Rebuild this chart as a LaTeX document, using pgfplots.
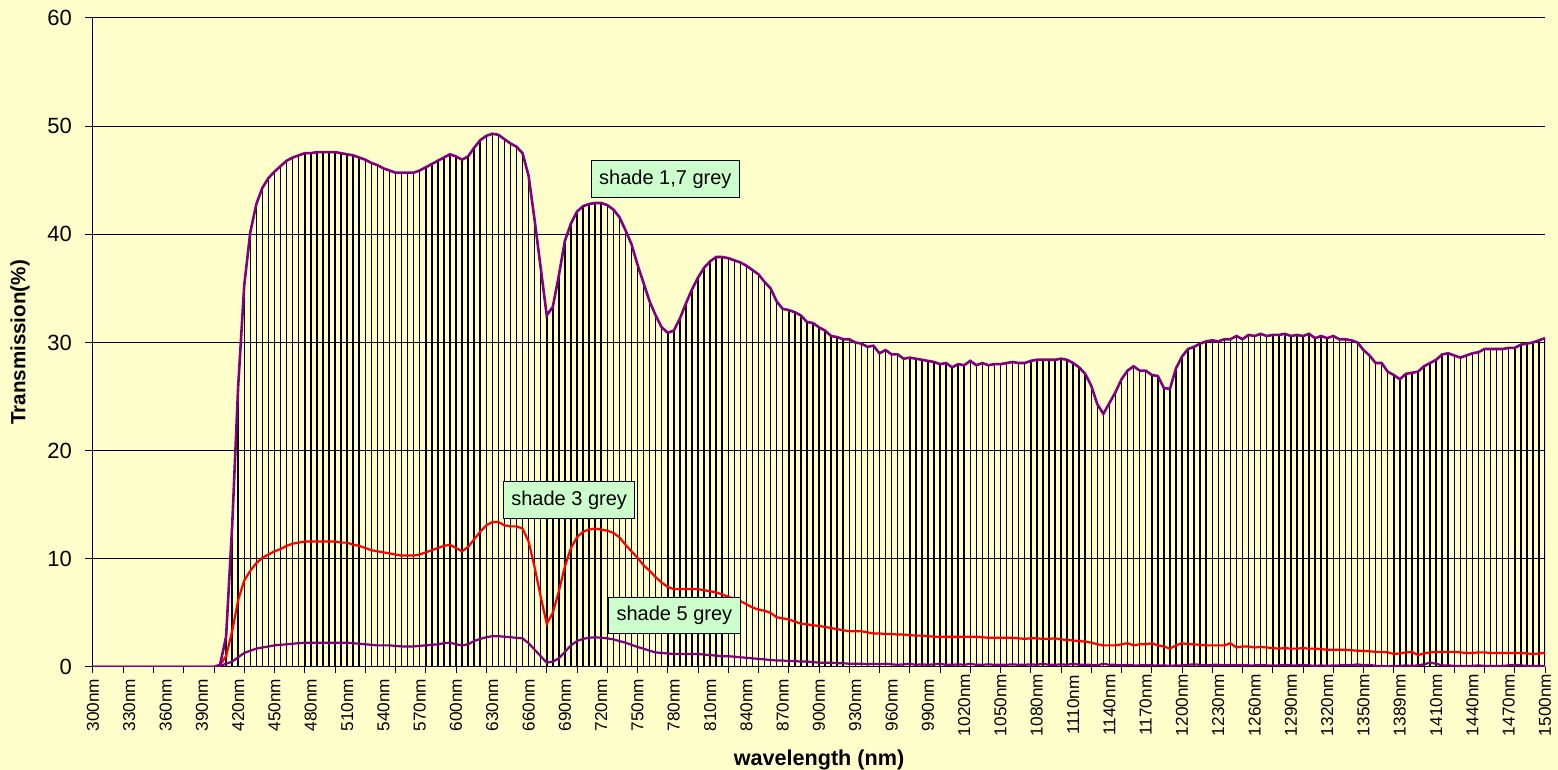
\documentclass[border=0pt]{standalone}
\usepackage{fontspec}
\setmainfont{Liberation Sans}
\usepackage{pgfplots}
\pgfplotsset{compat=1.18}
\usepackage{pgfplotstable}
\definecolor{bg}{RGB}{255,255,204}
\definecolor{lbl}{RGB}{204,255,204}
\definecolor{pur}{RGB}{128,0,128}
\pgfplotstableread{
i top red bot
0 0 0 0
1 0 0 0
2 0 0 0
3 0 0 0
4 0 0 0
5 0 0 0
6 0 0 0
7 0 0 0
8 0 0 0
9 0 0 0
10 0 0 0
11 0 0 0
12 0 0 0
13 0 0 0
14 0 0 0
15 0 0 0
16 0 0 0
17 0 0 0
18 0 0 0
19 0 0 0
20 0 0 0
21 0.2 0.2 0.1
22 2.8 1.0 0.3
23 13.0 3.3 0.5
24 26.0 6.2 0.9
25 35.3 8.0 1.3
26 40.2 8.9 1.5
27 42.8 9.6 1.7
28 44.3 10.1 1.8
29 45.2 10.4 1.9
30 45.8 10.7 2.0
31 46.3 10.9 2.05
32 46.8 11.2 2.1
33 47.1 11.4 2.15
34 47.3 11.5 2.2
35 47.5 11.6 2.25
36 47.5 11.6 2.25
37 47.6 11.6 2.25
38 47.6 11.6 2.25
39 47.6 11.6 2.25
40 47.6 11.6 2.25
41 47.5 11.5 2.25
42 47.4 11.5 2.25
43 47.3 11.3 2.2
44 47.1 11.2 2.15
45 46.9 11.0 2.1
46 46.6 10.8 2.05
47 46.4 10.7 2.0
48 46.1 10.6 2.0
49 45.9 10.5 2.0
50 45.7 10.4 1.95
51 45.7 10.3 1.9
52 45.7 10.3 1.9
53 45.7 10.3 1.9
54 45.9 10.4 1.95
55 46.2 10.6 2.0
56 46.5 10.8 2.05
57 46.8 11.0 2.1
58 47.1 11.2 2.2
59 47.4 11.3 2.25
60 47.2 11.0 2.1
61 46.9 10.7 2.0
62 47.2 11.1 2.1
63 48.0 11.8 2.4
64 48.7 12.5 2.6
65 49.1 13.1 2.75
66 49.3 13.4 2.85
67 49.2 13.4 2.85
68 48.8 13.1 2.8
69 48.4 13.0 2.75
70 48.1 13.0 2.7
71 47.5 12.8 2.65
72 45.4 11.6 2.2
73 41.3 9.2 1.6
74 36.9 6.5 1.0
75 32.5 4.0 0.4
76 33.3 5.0 0.5
77 36.2 7.0 0.8
78 39.4 9.3 1.4
79 41.0 11.0 2.0
80 42.1 12.0 2.4
81 42.6 12.5 2.6
82 42.8 12.7 2.7
83 42.9 12.8 2.75
84 42.9 12.7 2.7
85 42.7 12.6 2.65
86 42.3 12.4 2.55
87 41.6 12.0 2.4
88 40.4 11.3 2.25
89 39.1 10.7 2.05
90 37.2 10.1 1.85
91 35.5 9.4 1.7
92 33.8 8.9 1.5
93 32.5 8.3 1.35
94 31.4 7.8 1.3
95 30.9 7.4 1.25
96 31.1 7.2 1.2
97 32.2 7.2 1.2
98 33.6 7.2 1.2
99 34.9 7.2 1.2
100 36.0 7.2 1.2
101 36.9 7.1 1.15
102 37.5 7.0 1.1
103 37.9 6.9 1.05
104 37.9 6.7 1.0
105 37.8 6.5 1.0
106 37.6 6.3 0.95
107 37.4 6.1 0.9
108 37.1 5.8 0.85
109 36.7 5.5 0.8
110 36.3 5.3 0.75
111 35.6 5.2 0.7
112 35.0 5.0 0.65
113 33.8 4.6 0.6
114 33.1 4.5 0.6
115 33.0 4.4 0.55
116 32.8 4.2 0.55
117 32.5 4.0 0.5
118 31.9 3.95 0.5
119 31.8 3.85 0.45
120 31.4 3.8 0.4
121 31.1 3.7 0.4
122 30.6 3.6 0.4
123 30.5 3.5 0.35
124 30.3 3.4 0.35
125 30.3 3.3 0.3
126 30.0 3.3 0.3
127 29.9 3.3 0.3
128 29.6 3.2 0.25
129 29.7 3.1 0.3
130 29.0 3.1 0.25
131 29.3 3.05 0.3
132 28.9 3.05 0.25
133 28.9 3.0 0.2
134 28.5 3.0 0.25
135 28.6 2.95 0.3
136 28.5 2.9 0.2
137 28.4 2.9 0.25
138 28.3 2.85 0.2
139 28.2 2.8 0.25
140 28.0 2.8 0.3
141 28.1 2.8 0.2
142 27.7 2.8 0.2
143 28.0 2.8 0.25
144 27.9 2.8 0.2
145 28.3 2.8 0.3
146 27.9 2.8 0.2
147 28.1 2.75 0.2
148 27.9 2.7 0.25
149 28.0 2.7 0.2
150 28.0 2.7 0.2
151 28.1 2.7 0.2
152 28.2 2.7 0.25
153 28.1 2.65 0.2
154 28.1 2.6 0.2
155 28.3 2.65 0.25
156 28.4 2.65 0.2
157 28.4 2.6 0.3
158 28.4 2.6 0.2
159 28.4 2.65 0.2
160 28.5 2.55 0.25
161 28.4 2.5 0.2
162 28.1 2.45 0.3
163 27.7 2.4 0.2
164 27.1 2.35 0.2
165 26.0 2.25 0.2
166 24.3 2.1 0.15
167 23.4 2.0 0.3
168 24.4 2.0 0.2
169 25.4 2.0 0.2
170 26.6 2.1 0.15
171 27.4 2.2 0.2
172 27.8 2.0 0.15
173 27.4 2.1 0.15
174 27.4 2.1 0.2
175 27.0 2.2 0.15
176 26.9 2.0 0.15
177 25.8 1.9 0.15
178 25.7 1.7 0.1
179 27.6 2.0 0.15
180 28.7 2.2 0.15
181 29.4 2.1 0.2
182 29.6 2.1 0.25
183 29.9 2.05 0.2
184 30.1 2.0 0.15
185 30.2 2.0 0.2
186 30.1 2.0 0.2
187 30.3 2.0 0.15
188 30.3 2.2 0.2
189 30.6 1.8 0.15
190 30.3 1.9 0.2
191 30.7 1.9 0.15
192 30.6 1.8 0.15
193 30.8 1.85 0.2
194 30.6 1.8 0.15
195 30.7 1.75 0.15
196 30.7 1.7 0.15
197 30.8 1.75 0.2
198 30.6 1.7 0.15
199 30.7 1.7 0.15
200 30.6 1.75 0.2
201 30.8 1.7 0.15
202 30.4 1.7 0.1
203 30.6 1.65 0.15
204 30.4 1.6 0.1
205 30.6 1.6 0.15
206 30.3 1.6 0.15
207 30.3 1.6 0.2
208 30.2 1.55 0.15
209 30.0 1.5 0.25
210 29.3 1.5 0.15
211 28.8 1.45 0.2
212 28.1 1.4 0.1
213 28.1 1.4 0.1
214 27.3 1.35 0.05
215 27.0 1.2 0.1
216 26.6 1.25 0.1
217 27.1 1.35 0.15
218 27.2 1.4 0.1
219 27.3 1.1 0.15
220 27.8 1.25 0.25
221 28.1 1.35 0.4
222 28.4 1.4 0.3
223 28.9 1.4 0.15
224 29.0 1.4 0.15
225 28.8 1.4 0.1
226 28.6 1.35 0.1
227 28.8 1.3 0.1
228 29.0 1.3 0.1
229 29.1 1.35 0.15
230 29.4 1.35 0.1
231 29.4 1.3 0.1
232 29.4 1.3 0.1
233 29.4 1.3 0.1
234 29.5 1.3 0.15
235 29.5 1.3 0.2
236 29.8 1.3 0.15
237 29.9 1.25 0.1
238 30.0 1.2 0.1
239 30.2 1.25 0.1
240 30.4 1.3 0.1
}\data

\begin{document}
\begin{tikzpicture}
\fill[bg] (0,0) rectangle (779pt,385pt);
\useasboundingbox (0,0) rectangle (779pt,385pt);
\begin{axis}[
  at={(46.5pt,51.5pt)}, anchor=south west,
  scale only axis, width=726pt, height=324.5pt,
  xmin=0, xmax=240, ymin=0, ymax=60,
  axis x line*=bottom, axis y line*=left,
  axis line style={-, black, line width=0.5pt},
  tick align=outside,
  major tick length=4pt, minor tick length=3pt,
  tick style={black, line width=0.5pt},
  xtick={0,6,...,240},
  major x tick style={draw=none},
  minor x tick style={draw=black, line width=0.5pt},
  minor xtick={0,5,...,240},
  xticklabels={300nm,330nm,360nm,390nm,420nm,450nm,480nm,510nm,540nm,570nm,600nm,630nm,660nm,690nm,720nm,750nm,780nm,810nm,840nm,870nm,900nm,930nm,960nm,990nm,1020nm,1050nm,1080nm,1110nm,1140nm,1170nm,1200nm,1230nm,1260nm,1290nm,1320nm,1350nm,1389nm,1410nm,1440nm,1470nm,1500nm},
  xticklabel shift=15pt,
  xticklabel style={rotate=90, anchor=center, font=\fontsize{8.6}{10}\selectfont},
  ytick={0,10,...,60},
  yticklabel style={font=\fontsize{11}{13}\selectfont, xshift=-3pt},
  /pgf/number format/assume math mode=true,
  ymajorgrids, grid style={black, line width=0.5pt},
  xlabel={wavelength (nm)},
  xlabel style={at={(axis description cs:0.5,-0.1433)}, anchor=center, font=\fontsize{10.8}{12}\selectfont\bfseries},
  ylabel={Transmission(\%)},
  ylabel style={at={(axis description cs:-0.0503,0.5)}, anchor=center, font=\fontsize{10.3}{12}\selectfont\bfseries},
  clip=true,
]
\addplot[ycomb, black, line width=0.75pt, mark=none] table[x=i, y=top] {\data};
\addplot[pur, line width=1.1pt, mark=none] table[x=i, y=bot] {\data};
\addplot[red, line width=1.1pt, mark=none] table[x=i, y=red] {\data};
\addplot[pur, line width=1.3pt, mark=none] table[x=i, y=top] {\data};
\node[draw=black, fill=lbl, line width=0.5pt, inner xsep=4pt, minimum height=18.5pt, font=\fontsize{10}{12}\selectfont] at (axis cs:94.6,45.1) {shade 1,7 grey};
\node[draw=black, fill=lbl, line width=0.5pt, inner xsep=4pt, minimum height=18.5pt, font=\fontsize{10}{12}\selectfont] at (axis cs:78.7,15.4) {shade 3 grey};
\node[draw=black, fill=lbl, line width=0.5pt, inner xsep=4pt, minimum height=18pt, font=\fontsize{10}{12}\selectfont] at (axis cs:96.1,4.8) {shade 5 grey};
\end{axis}
\end{tikzpicture}
\end{document}
